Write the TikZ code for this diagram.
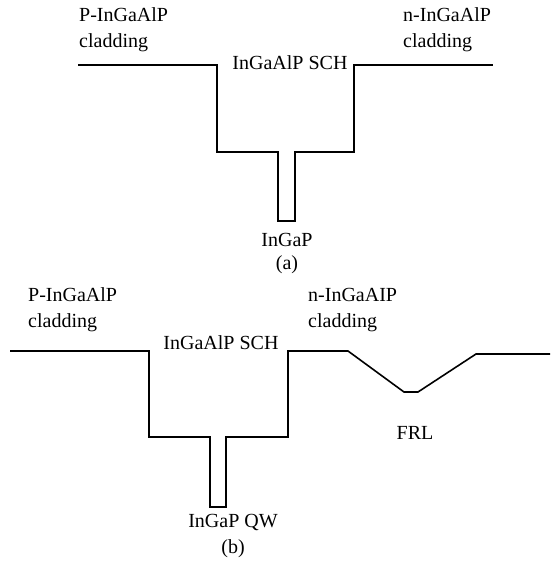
\documentclass[tikz,border=0pt]{standalone}
\usepackage{fontspec}
\setmainfont{Liberation Serif}
\usetikzlibrary{positioning}
\tikzstyle{txt}=[font=\fontsize{20}{26}\selectfont, inner sep=0pt, align=left]
\tikzstyle{band}=[line width=1.6pt, line join=miter]

\begin{document}
\begin{tikzpicture}[x=1pt,y=-1pt,node distance=9pt]
    \useasboundingbox (0,0) rectangle (550,564);
    % (a) plain SCH structure
    \draw[band] (78,65) -| (217,152) -| (278,221) -| (295,152) -| (354,65) -- (493,65);
    \node[txt, anchor=west] (pa) at (79,30) {P-InGaAlP\\cladding};
    \node[txt, anchor=west] (na) at (403,30) {n-InGaAlP\\cladding};
    \node[txt] (scha) at (290,63) {InGaAlP SCH};
    \node[txt] (qwa) at (287,240) {InGaP};
    \node[txt, below=of qwa] (capa) {(a)};
    % (b) with FRL on the n side
    \draw[band] (10,351) -| (149,437) -| (210,507) -| (226,437) -| (288,351)
        -- (348,351) -- (404,392) -- (418,392) -- (476,354) -- (550,354);
    \node[txt, anchor=west] (pb) at (28,310) {P-InGaAlP\\cladding};
    \node[txt, anchor=west] (nb) at (308,310) {n-InGaAIP\\cladding};
    \node[txt] (schb) at (221,343) {InGaAlP SCH};
    \node[txt] (frl) at (415,433) {FRL};
    \node[txt] (qwb) at (233,522) {InGaP QW};
    \node[txt, below=of qwb] (capb) {(b)};
\end{tikzpicture}
\end{document}
